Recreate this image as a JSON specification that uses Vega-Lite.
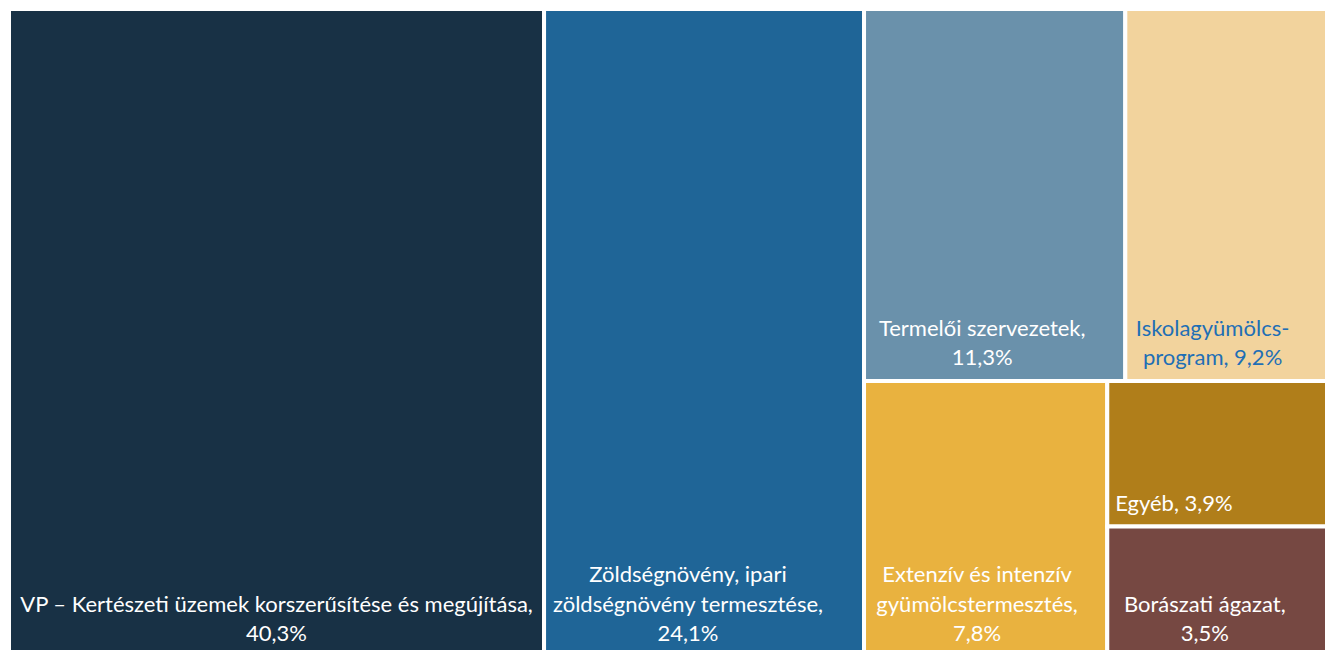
{
  "$schema": "https://vega.github.io/schema/vega-lite/v6.json",
  "width": 1316,
  "height": 641,
  "autosize": {"type": "none"},
  "padding": {"left": 9, "top": 9, "right": 0, "bottom": 0},
  "background": "white",
  "config": {"view": {"stroke": null}},
  "data": {
    "values": [
      {"name": "VP – Kertészeti üzemek korszerűsítése és megújítása", "value": 40.3, "col": 1, "row": 1, "cell": 1, "label": ["VP – Kertészeti üzemek korszerűsítése és megújítása,", "40,3%"]},
      {"name": "Zöldségnövény, ipari zöldségnövény termesztése", "value": 24.1, "col": 2, "row": 1, "cell": 1, "label": ["Zöldségnövény, ipari", "zöldségnövény termesztése,", "24,1%"]},
      {"name": "Termelői szervezetek", "value": 11.3, "col": 3, "row": 1, "cell": 1, "label": ["Termelői szervezetek,", "11,3%"]},
      {"name": "Iskolagyümölcs-program", "value": 9.2, "col": 3, "row": 1, "cell": 2, "label": ["Iskolagyümölcs-", "program, 9,2%"]},
      {"name": "Extenzív és intenzív gyümölcstermesztés", "value": 7.8, "col": 3, "row": 2, "cell": 1, "label": ["Extenzív és intenzív", "gyümölcstermesztés,", "7,8%"]},
      {"name": "Egyéb", "value": 3.9, "col": 3, "row": 2, "cell": 2, "label": ["Egyéb, 3,9%"]},
      {"name": "Borászati ágazat", "value": 3.5, "col": 3, "row": 2, "cell": 2, "label": ["Borászati ágazat,", "3,5%"]}
    ]
  },
  "transform": [
    {"window": [{"op": "sum", "field": "value", "as": "cum"}], "frame": [null, 0],
     "sort": [{"field": "col"}, {"field": "row"}, {"field": "cell"}, {"field": "value", "order": "descending"}]},
    {"calculate": "datum.cum - datum.value", "as": "prev"},
    {"joinaggregate": [{"op": "sum", "field": "value", "as": "colSum"}, {"op": "min", "field": "prev", "as": "colStart"}], "groupby": ["col"]},
    {"joinaggregate": [{"op": "sum", "field": "value", "as": "rowSum"}, {"op": "min", "field": "prev", "as": "rowStart"}], "groupby": ["col", "row"]},
    {"joinaggregate": [{"op": "sum", "field": "value", "as": "cellSum"}, {"op": "min", "field": "prev", "as": "cellStart"}], "groupby": ["col", "row", "cell"]},
    {"calculate": "100 * (datum.rowStart - datum.colStart) / datum.colSum", "as": "rowY0"},
    {"calculate": "datum.rowY0 + 100 * datum.rowSum / datum.colSum", "as": "rowY1"},
    {"calculate": "datum.colStart + (datum.cellStart - datum.rowStart) / datum.rowSum * datum.colSum", "as": "x0"},
    {"calculate": "datum.x0 + datum.cellSum / datum.rowSum * datum.colSum", "as": "x1"},
    {"calculate": "datum.rowY0 + (datum.prev - datum.cellStart) / datum.cellSum * (datum.rowY1 - datum.rowY0)", "as": "y0"},
    {"calculate": "datum.y0 + datum.value / datum.cellSum * (datum.rowY1 - datum.rowY0)", "as": "y1"},
    {"calculate": "max(length(datum.label[0]), datum.label.length > 1 ? length(datum.label[1]) : 0, datum.label.length > 2 ? length(datum.label[2]) : 0)", "as": "maxLen"},
    {"calculate": "min(datum.x0 + 0.753 + 0.388 * datum.maxLen, (datum.x0 + datum.x1) / 2)", "as": "lx"},
    {"calculate": "datum.y1 - (datum.label.length - 1) * 4.552", "as": "ly"}
  ],
  "layer": [
    {
      "mark": {"type": "rect", "stroke": "white", "strokeWidth": 4, "clip": true},
      "encoding": {
        "x": {"field": "x0", "type": "quantitative", "scale": {"domain": [0, 99.12], "nice": false, "zero": false}, "axis": null},
        "x2": {"field": "x1"},
        "y": {"field": "y0", "type": "quantitative", "scale": {"domain": [0, 98.92], "nice": false, "zero": false, "reverse": true}, "axis": null},
        "y2": {"field": "y1"},
        "fill": {
          "field": "name", "type": "nominal", "legend": null,
          "scale": {
            "domain": ["VP – Kertészeti üzemek korszerűsítése és megújítása", "Zöldségnövény, ipari zöldségnövény termesztése", "Termelői szervezetek", "Iskolagyümölcs-program", "Extenzív és intenzív gyümölcstermesztés", "Egyéb", "Borászati ágazat"],
            "range": ["#183145", "#1f6597", "#6a91ab", "#f2d39d", "#e9b23f", "#b07e1a", "#764842"]
          }
        },
        "tooltip": [{"field": "name", "type": "nominal"}, {"field": "value", "type": "quantitative"}]
      }
    },
    {
      "mark": {"type": "text", "align": "center", "baseline": "alphabetic", "dy": -16, "font": "Lato", "fontSize": 22, "lineHeight": 29.5},
      "encoding": {
        "x": {"field": "lx", "type": "quantitative"},
        "y": {"field": "ly", "type": "quantitative"},
        "text": {"field": "label"},
        "color": {"condition": {"test": "datum.name === 'Iskolagyümölcs-program'", "value": "#1f6fb5"}, "value": "white"}
      }
    }
  ]
}
